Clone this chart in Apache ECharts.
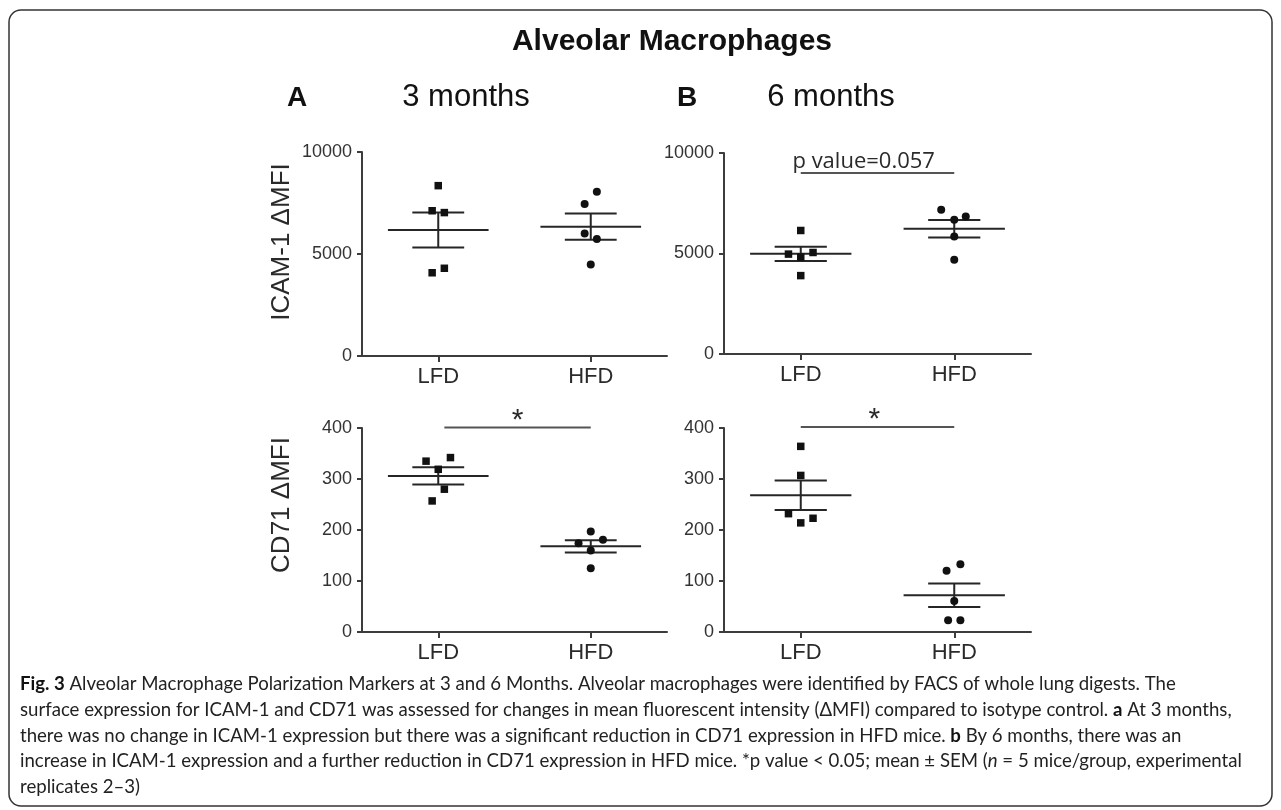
<!DOCTYPE html>
<html>
<head>
<meta charset="utf-8">
<title>Alveolar Macrophages</title>
<script src="https://cdn.jsdelivr.net/npm/echarts@6/dist/echarts.min.js"></script>
<style>
  html, body { margin: 0; padding: 0; background: #fff; }
  #main { width: 1281px; height: 810px; }
</style>
</head>
<body>
<div id="main"></div>
<script>
// 分组
var groups = ["LFD", "HFD"];
// 刻度 [min, max, interval]
var icamTicks = [0, 10000, 5000];
var cd71Ticks = [0, 400, 100];

// A: 3 months, ICAM-1
var icam3Lfd = [8350, 7120, 7030, 4080, 4300];
var icam3LfdX = [0, -0.04, 0.04, -0.04, 0.04];
var icam3Hfd = [8050, 7450, 6010, 5740, 4490];
var icam3HfdX = [0.04, -0.04, -0.04, 0.04, 0];
var icam3Mean = [6176, 6340];
var icam3Sem = [858, 640];

// B: 6 months, ICAM-1
var icam6Lfd = [6145, 4970, 4820, 5050, 3900];
var icam6LfdX = [0, -0.08, 0, 0.08, 0];
var icam6Hfd = [7180, 6680, 6840, 5850, 4690];
var icam6HfdX = [-0.085, 0, 0.075, 0, 0];
var icam6Mean = [4985, 6230];
var icam6Sem = [356, 433];

// A: 3 months, CD71
var cd713Lfd = [335, 342, 319, 280, 257];
var cd713LfdX = [-0.08, 0.08, 0, 0.04, -0.04];
var cd713Hfd = [197, 174, 181, 160, 125];
var cd713HfdX = [0, -0.08, 0.08, 0, 0];
var cd713Mean = [306, 168];
var cd713Sem = [17, 12];

// B: 6 months, CD71
var cd716Lfd = [364, 307, 232, 214, 223];
var cd716LfdX = [0, 0, -0.08, 0, 0.08];
var cd716Hfd = [120, 133, 61, 23, 23];
var cd716HfdX = [-0.05, 0.04, 0, -0.04, 0.04];
var cd716Mean = [268, 72];
var cd716Sem = [29, 23];

// 显著性标注 [x起点, x终点, y, 文字x]
var icam6Bracket = [0, 1, 9000, 0.41];
var icam6BracketText = "p value=0.057";
var cd713Bracket = [0.04, 1, 401, 0.52];
var cd716Bracket = [0, 1, 402, 0.48];
var starText = "*";

var caption =
  "{b|Fig. 3} Alveolar Macrophage Polarization Markers at 3 and 6 Months. Alveolar macrophages were identified by FACS of whole lung digests. The\n" +
  "surface expression for ICAM-1 and CD71 was assessed for changes in mean fluorescent intensity (\u0394MFI) compared to isotype control. {b|a} At 3 months,\n" +
  "there was no change in ICAM-1 expression but there was a significant reduction in CD71 expression in HFD mice. {b|b} By 6 months, there was an\n" +
  "increase in ICAM-1 expression and a further reduction in CD71 expression in HFD mice. *p value < 0.05; mean \u00b1 SEM ({i|n} = 5 mice/group, experimental\n" +
  "replicates 2\u20133)";

var myChart = echarts.init(document.getElementById("main"));

var axisColor = "#3c3c3c";
var textColor = "#2a2a2a";
var capFont = "Lato";
var capSize = 18.6;
var capLine = 25.8;

function pts(values, offsets, base) {
  return values.map(function(v, i) {
    return [base + offsets[i], v];
  });
}

// 均值线 + SEM 误差线
function meanSemItem(params, api) {
  var x = api.value(0), m = api.value(1), s = api.value(2);
  var a = api.coord([x - 0.33, m]), b = api.coord([x + 0.33, m]);
  var t = api.coord([x, m + s]), d = api.coord([x, m - s]);
  var t1 = api.coord([x - 0.17, m + s]), t2 = api.coord([x + 0.17, m + s]);
  var d1 = api.coord([x - 0.17, m - s]), d2 = api.coord([x + 0.17, m - s]);
  var st = { stroke: "#262626", lineWidth: 2 };
  return {
    type: "group",
    children: [
      { type: "line", shape: { x1: a[0], y1: a[1], x2: b[0], y2: b[1] }, style: st },
      { type: "line", shape: { x1: t[0], y1: t[1], x2: d[0], y2: d[1] }, style: st },
      { type: "line", shape: { x1: t1[0], y1: t1[1], x2: t2[0], y2: t2[1] }, style: st },
      { type: "line", shape: { x1: d1[0], y1: d1[1], x2: d2[0], y2: d2[1] }, style: st }
    ]
  };
}

// 显著性横线 + 文字
function bracketItem(text, font, size, gap) {
  return function(params, api) {
    var p1 = api.coord([api.value(0), api.value(2)]);
    var p2 = api.coord([api.value(1), api.value(2)]);
    var pt = api.coord([api.value(3), api.value(2)]);
    return {
      type: "group",
      children: [
        { type: "line", shape: { x1: p1[0], y1: p1[1], x2: p2[0], y2: p2[1] },
          style: { stroke: "#555", lineWidth: 2 } },
        { type: "text", style: { text: text, x: pt[0], y: pt[1] - gap, fill: textColor,
          fontSize: size, fontFamily: font, align: "center", verticalAlign: "bottom" } }
      ]
    };
  };
}

function panelSeries(g, lfd, lfdX, hfd, hfdX, mean, sem) {
  return [
    {
      type: "scatter", xAxisIndex: 2 * g + 1, yAxisIndex: g,
      symbol: "rect", symbolSize: 7.5, itemStyle: { color: "#111", opacity: 1 },
      data: pts(lfd, lfdX, 0), silent: true
    },
    {
      type: "scatter", xAxisIndex: 2 * g + 1, yAxisIndex: g,
      symbol: "circle", symbolSize: 8, itemStyle: { color: "#111", opacity: 1 },
      data: pts(hfd, hfdX, 1), silent: true
    },
    {
      type: "custom", xAxisIndex: 2 * g + 1, yAxisIndex: g,
      renderItem: meanSemItem, silent: true,
      data: [[0, mean[0], sem[0]], [1, mean[1], sem[1]]]
    }
  ];
}

function yAx(g, ticks, name, pad) {
  return {
    type: "value", gridIndex: g,
    min: ticks[0], max: ticks[1], interval: ticks[2],
    axisLine: { show: true, onZero: false, lineStyle: { color: axisColor, width: 2 } },
    axisTick: { show: true, length: 5, lineStyle: { color: axisColor, width: 2 } },
    splitLine: { show: false },
    axisLabel: {
      color: "#333", fontSize: 18, fontFamily: "Liberation Sans", margin: 10,
      formatter: function(v) { return String(v); }
    },
    name: name, nameLocation: "middle", nameGap: 67,
    nameTextStyle: { fontSize: 26, color: textColor, fontFamily: "Liberation Sans", padding: [0, 0, 0, pad] }
  };
}

function xAxes(g) {
  return [
    {
      type: "category", gridIndex: g, data: groups, boundaryGap: true,
      axisLine: { show: true, onZero: false, lineStyle: { color: axisColor, width: 2 } },
      axisTick: { show: true, alignWithLabel: true, length: 6, lineStyle: { color: axisColor, width: 2 } },
      axisLabel: { color: textColor, fontSize: 22, fontFamily: "Liberation Sans", margin: 10 },
      splitLine: { show: false }
    },
    { type: "value", gridIndex: g, min: -0.5, max: 1.5, show: false }
  ];
}

var series = []
  .concat(panelSeries(0, icam3Lfd, icam3LfdX, icam3Hfd, icam3HfdX, icam3Mean, icam3Sem))
  .concat(panelSeries(1, icam6Lfd, icam6LfdX, icam6Hfd, icam6HfdX, icam6Mean, icam6Sem))
  .concat(panelSeries(2, cd713Lfd, cd713LfdX, cd713Hfd, cd713HfdX, cd713Mean, cd713Sem))
  .concat(panelSeries(3, cd716Lfd, cd716LfdX, cd716Hfd, cd716HfdX, cd716Mean, cd716Sem));

series.push({
  type: "custom", xAxisIndex: 3, yAxisIndex: 1, clip: false, silent: true,
  renderItem: bracketItem(icam6BracketText, "Open Sans", 22, 0), data: [icam6Bracket]
});
series.push({
  type: "custom", xAxisIndex: 5, yAxisIndex: 2, clip: false, silent: true,
  renderItem: bracketItem(starText, "Liberation Sans", 30, -8), data: [cd713Bracket]
});
series.push({
  type: "custom", xAxisIndex: 7, yAxisIndex: 3, clip: false, silent: true,
  renderItem: bracketItem(starText, "Liberation Sans", 30, -8), data: [cd716Bracket]
});

var option = {
  animation: false,
  backgroundColor: "#fff",
  grid: [
    { left: 362, top: 152, width: 305, height: 204 },
    { left: 724, top: 153, width: 307, height: 201 },
    { left: 362, top: 428, width: 305, height: 204 },
    { left: 724, top: 428, width: 307, height: 204 }
  ],
  xAxis: [].concat(xAxes(0), xAxes(1), xAxes(2), xAxes(3)),
  yAxis: [
    yAx(0, icamTicks, "ICAM-1 \u0394MFI", 24),
    yAx(1, icamTicks, "", 0),
    yAx(2, cd71Ticks, "CD71 \u0394MFI", 50),
    yAx(3, cd71Ticks, "", 0)
  ],
  graphic: [
    { type: "rect", shape: { x: 9, y: 10, width: 1263, height: 796, r: 12 },
      style: { fill: "none", stroke: "#333", lineWidth: 1.5 }, silent: true },
    { type: "text", x: 672, y: 42, style: { text: "Alveolar Macrophages", fontSize: 30, fontWeight: "bold",
      fontFamily: "Liberation Sans", fill: "#111", align: "center", verticalAlign: "middle" } },
    { type: "text", x: 297, y: 98, style: { text: "A", fontSize: 28, fontWeight: "bold",
      fontFamily: "Liberation Sans", fill: "#111", align: "center", verticalAlign: "middle" } },
    { type: "text", x: 466, y: 97, style: { text: "3 months", fontSize: 31,
      fontFamily: "Liberation Sans", fill: "#111", align: "center", verticalAlign: "middle" } },
    { type: "text", x: 687, y: 98, style: { text: "B", fontSize: 28, fontWeight: "bold",
      fontFamily: "Liberation Sans", fill: "#111", align: "center", verticalAlign: "middle" } },
    { type: "text", x: 831, y: 97, style: { text: "6 months", fontSize: 31,
      fontFamily: "Liberation Sans", fill: "#111", align: "center", verticalAlign: "middle" } },
    { type: "text", x: 20, y: 671, style: {
      text: caption, fontSize: capSize, lineHeight: capLine, fontFamily: capFont, fill: "#222",
      rich: {
        b: { fontSize: capSize, fontFamily: capFont, fontWeight: "bold", fill: "#111", lineHeight: capLine },
        i: { fontSize: capSize, fontFamily: capFont, fontStyle: "italic", fill: "#222", lineHeight: capLine }
      } } }
  ],
  series: series
};

myChart.setOption(option);
window.addEventListener("resize", function() {
  myChart.resize();
});
</script>
</body>
</html>
